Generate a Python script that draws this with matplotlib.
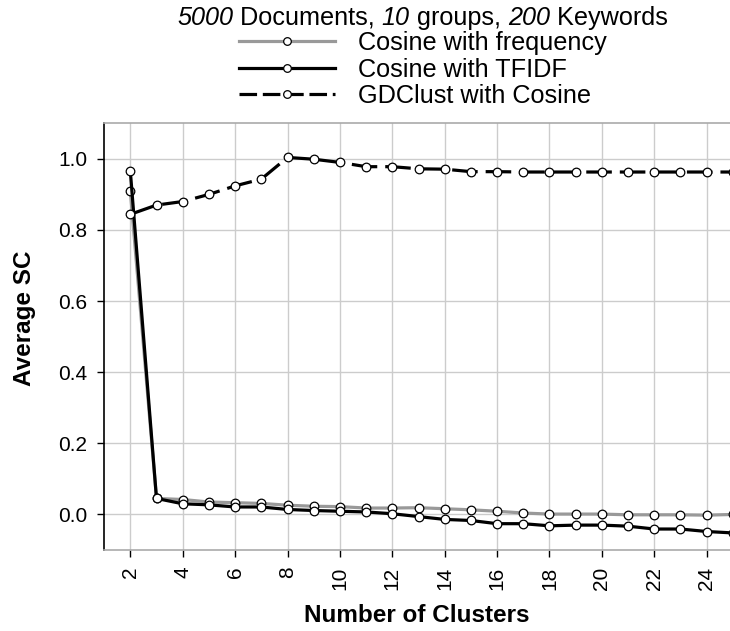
import matplotlib
matplotlib.use("Agg")
import matplotlib.pyplot as plt
from matplotlib.lines import Line2D

plt.rcParams['font.family'] = ['Liberation Sans', 'DejaVu Sans']

clusters = list(range(2, 26))
cos_freq = [0.910, 0.045, 0.042, 0.035, 0.033, 0.031, 0.026, 0.023, 0.022, 0.018,
            0.018, 0.019, 0.016, 0.013, 0.009, 0.004, 0.001, 0.001, 0.001, -0.001,
            -0.001, -0.001, -0.002, 0.000]
cos_tfidf = [0.966, 0.045, 0.030, 0.027, 0.021, 0.021, 0.014, 0.011, 0.009, 0.007,
             0.002, -0.006, -0.014, -0.017, -0.026, -0.026, -0.032, -0.030, -0.030, -0.033,
             -0.041, -0.041, -0.048, -0.052]
gdclust = [0.844, 0.870, 0.880, 0.900, 0.924, 0.943, 1.004, 0.999, 0.990, 0.978,
           0.978, 0.972, 0.971, 0.964, 0.964, 0.963, 0.963, 0.963, 0.963, 0.963,
           0.963, 0.963, 0.963, 0.963]
labels = ["Cosine with frequency", "Cosine with TFIDF", "GDClust with Cosine"]
title_parts = [("5000", 'italic'), (" Documents, ", 'normal'), ("10", 'italic'),
               (" groups, ", 'normal'), ("200", 'italic'), (" Keywords", 'normal')]
xticks = list(range(2, 25, 2))
yticks = [0.0, 0.2, 0.4, 0.6, 0.8, 1.0]

W, H = 730, 631
fig = plt.figure(figsize=(W / 100, H / 100), dpi=100)
ax = fig.add_axes([104.1 / W, (H - 550) / H, 628.8 / W, (550 - 123.3) / H])

lw = 2.3
mk = dict(marker='o', markersize=6.2, markerfacecolor='white',
          markeredgecolor='black', markeredgewidth=0.9)
ax.plot(clusters, cos_freq, color='#999999', lw=lw, zorder=3, **mk)
ax.plot(clusters, cos_tfidf, color='black', lw=lw, zorder=4, **mk)
ax.plot(clusters, gdclust, color='black', lw=lw, dashes=(8, 2.5), zorder=5, **mk)

ax.set_xlim(1, 25)
ax.set_ylim(-0.1, 1.1)
ax.set_xticks(xticks)
ax.set_xticklabels([str(t) for t in xticks], rotation=90, fontsize=15)
ax.set_yticks(yticks)
ax.set_yticklabels([f"{t:.1f}" for t in yticks], fontsize=15)
ax.tick_params(axis='both', direction='out', length=5, width=1, color='black', pad=7)
ax.grid(True, color='#cccccc', lw=1.0, zorder=0)
ax.set_axisbelow(True)

ax.spines['left'].set_color('black')
ax.spines['left'].set_linewidth(1.2)
for s in ['top', 'bottom']:
    ax.spines[s].set_color('#aaaaaa')
    ax.spines[s].set_linewidth(1.2)
ax.spines['right'].set_visible(False)

fs_lab = 17.5
fig.text(417 / W, 1 - 615 / H, "Number of Clusters", fontsize=fs_lab, fontweight='bold',
         ha='center', va='center')
fig.text(25 / W, 1 - 318 / H, "Average SC", fontsize=fs_lab, fontweight='bold',
         ha='center', va='center', rotation=90)

# title built from upright and italic pieces
fs_t = 18.2
fig.canvas.draw()
renderer = fig.canvas.get_renderer()
xpos = 177.0
for txt, style in title_parts:
    t = fig.text(xpos / W, 1 - 18 / H, txt, fontsize=fs_t, style=style,
                 ha='left', va='center')
    bb = t.get_window_extent(renderer=renderer)
    xpos += bb.width

handles = [
    Line2D([], [], color='#999999', lw=lw, **{**mk, 'markersize': 5.5}),
    Line2D([], [], color='black', lw=lw, **{**mk, 'markersize': 5.5}),
    Line2D([], [], color='black', lw=lw, dashes=(5.5, 1.8), **{**mk, 'markersize': 5.5}),
]
fig.legend(handles, labels, loc='upper left', bbox_to_anchor=(239 / W, 1 - 31 / H),
           frameon=False, fontsize=fs_t, handlelength=3.78, handletextpad=0.92,
           labelspacing=0.1, borderpad=0, borderaxespad=0, numpoints=1)

fig.savefig("out.png", dpi=100)
